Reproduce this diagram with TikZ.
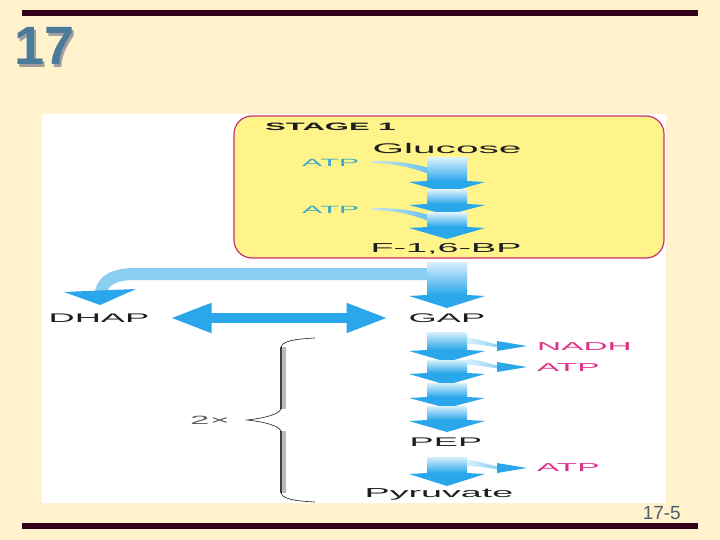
\documentclass[tikz,border=0pt]{standalone}
\usepackage{fontspec}
\setmainfont{Liberation Sans}
\newfontfamily\widefont[FakeStretch=2.9]{Liberation Sans}
\usetikzlibrary{arrows.meta, positioning}
\definecolor{slidebg}{HTML}{FFF2CD}
\definecolor{barcol}{HTML}{33001A}
\definecolor{numblue}{HTML}{4A7B9B}
\definecolor{pagegray}{HTML}{4B5E6B}
\definecolor{stageyellow}{HTML}{FFF48A}
\definecolor{stageline}{HTML}{C8306E}
\definecolor{flowblue}{HTML}{2AA6EA}
\definecolor{flowlight}{HTML}{D8F0FC}
\definecolor{bandblue}{HTML}{8ACFF2}
\definecolor{atpcyan}{HTML}{3AAAC8}
\definecolor{yieldpink}{HTML}{E0308A}
\definecolor{inkgray}{HTML}{1E1E1E}

% one step of the main flow: shaft top, head start, tip (x fixed)
\newcommand{\flowseg}[3]{%
  \shade[top color=flowlight, bottom color=flowblue] (427,#1) rectangle (467,#2);
  \fill[flowblue] (409,#2+1) -- (427,#2) -- (467,#2) -- (485,#2+1) -- (447,#3) -- cycle;
}
% side product leaving the shaft
\newcommand{\yieldarrow}[2]{%
  \shade[left color=flowlight, right color=bandblue] (467,#1-3) .. controls (482,#1-2) and (490,#2-2) .. (500,#2-1.5) -- (500,#2+1.5) .. controls (490,#2+1) and (482,#1+3) .. (467,#1+3) -- cycle;
  \fill[flowblue] (497,#2-5) -- (527,#2) -- (497,#2+5) -- cycle;
}
% ATP going into the shaft
\newcommand{\atpfeed}[1]{%
  \shade[left color=atpcyan!30, right color=flowblue!70] (372,#1-1) .. controls (400,#1-1) and (415,#1+2) .. (429,#1+6) -- (429,#1+12) .. controls (412,#1+6) and (398,#1+1.5) .. (372,#1+1) -- cycle;
}

\begin{document}
\begin{tikzpicture}[x=1pt, y=-1pt,
    every node/.style={inner sep=0pt, text=inkgray},
    chem/.style={font=\widefont\fontsize{12.5}{14}\selectfont},
    yield/.style={font=\widefont\fontsize{11.5}{13}\selectfont, text=yieldpink, anchor=west},
    feed/.style={font=\widefont\fontsize{10.5}{12}\selectfont, text=atpcyan, anchor=west},
    bigtip/.tip={Triangle[length=42pt, width=27pt]}
]
\useasboundingbox (0,0) rectangle (720,540);
% slide
\fill[slidebg] (0,0) rectangle (720,540);
\fill[barcol] (22,10) rectangle (698,16);
\fill[barcol] (22,523) rectangle (698,529);
\node (chap) [font=\bfseries\fontsize{54}{54}\selectfont, text=numblue, anchor=base west] at (14,65)
  {\rlap{\hspace{2.5pt}\raisebox{-2.5pt}{\color{gray!75}17}}17};
\node (page) [font=\fontsize{19}{19}\selectfont, text=pagegray, anchor=base east] at (681,519) {17-5};

% figure panel
\fill[white] (42,114) rectangle (666,503);
\draw[stageline, line width=1.2pt, fill=stageyellow, rounded corners=18pt] (234,116) rectangle (664,258);

% split to DHAP
\draw[bandblue, line width=12pt] (462,274) -- (135,274) to[out=180, in=80] (101,292);
\fill[flowblue] (64,292) -- (136,289) -- (100,305) -- cycle;

% side arrows
\atpfeed{162}
\atpfeed{209}
\yieldarrow{341}{346}
\yieldarrow{362}{367}
\yieldarrow{463}{468}

% main flow
\flowseg{158}{181}{193}
\flowseg{190}{204}{215}
\flowseg{213}{227}{239}
\flowseg{262}{295}{308}
\flowseg{332}{350}{362}
\flowseg{360}{373}{385}
\flowseg{383}{397}{408}
\flowseg{406}{420}{432}
\flowseg{457}{473}{486}

% labels
\node (stage) [font=\widefont\bfseries\fontsize{10.7}{12}\selectfont, anchor=west] at (265,127) {STAGE 1};
\node (glc) [chem, font=\widefont\fontsize{14}{16}\selectfont] at (447,148) {Glucose};
\node (atpa) [feed] at (302,163) {ATP};
\node (atpb) [feed] at (302,210) {ATP};
\node (fbp) [chem, font=\widefont\fontsize{13}{15}\selectfont] at (446,249) {F-1,6-BP};
\node (dhap) [chem] at (99,318) {DHAP};
\node (gap) [chem] at (447,318) {GAP};
\node (nadh) [yield] at (537,347) {NADH};
\node (atpc) [yield] at (537,368) {ATP};
\node (pep) [chem] at (446,442) {PEP};
\node (atpd) [yield] at (537,468) {ATP};
\node (pyr) [chem, font=\widefont\fontsize{13}{15}\selectfont] at (439,494) {Pyruvate};
\node (twice) [font=\widefont\fontsize{12}{12}\selectfont, text=gray!70!black] at (210,420) {2×};

% DHAP <-> GAP
\draw[flowblue, line width=10pt, {bigtip}-{bigtip}] ([xshift=20pt]dhap.east) -- ([xshift=-20pt]gap.west);

% brace
\draw[gray!55, line width=4pt] (284,347) -- (284,409) (284,431) -- (284,493);
\draw[inkgray!85, line width=2pt] (281,347) -- (281,409) (281,431) -- (281,493);
\draw[inkgray, line width=0.6pt] (315,338) .. controls (295,339) and (281,341) .. (281,348)
  (281,408) .. controls (281,414) and (265,418) .. (247,420) .. controls (265,422) and (281,426) .. (281,432)
  (281,492) .. controls (281,499) and (295,501) .. (315,502);
\end{tikzpicture}
\end{document}
